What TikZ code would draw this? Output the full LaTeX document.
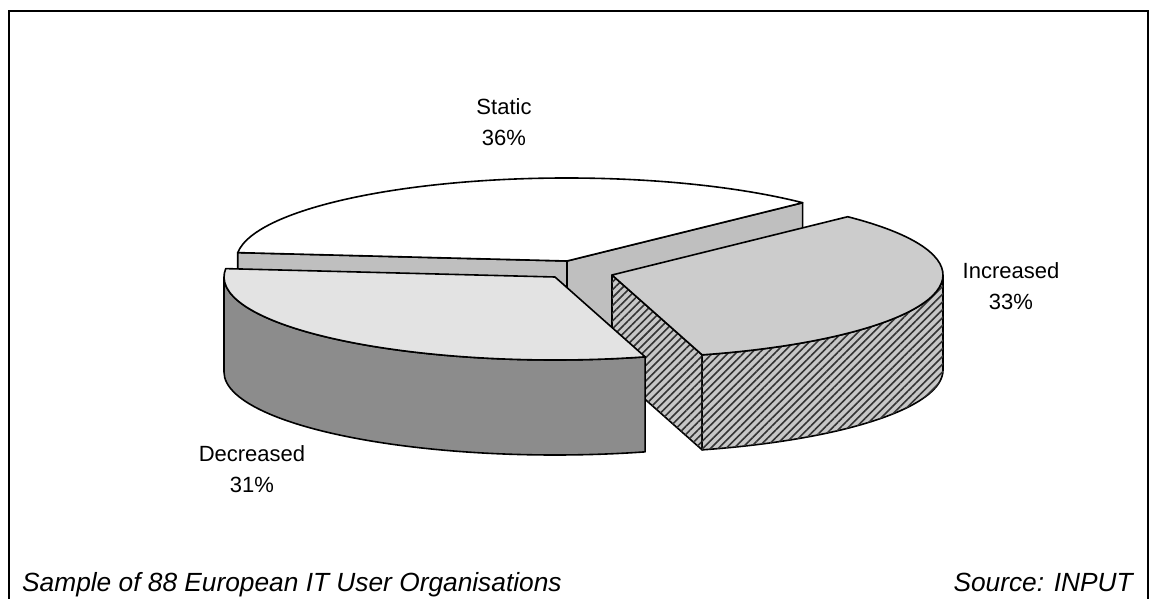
\documentclass[tikz,border=0pt]{standalone}
\usepackage{fontspec}
\setmainfont{Liberation Sans}
\usetikzlibrary{calc,patterns.meta}

\tikzset{
  edge/.style={draw=black, line width=1.6pt, line join=round},
  statictop/.style={edge, fill=white},
  staticside/.style={edge, fill=black!25},
  incrtop/.style={edge, fill=black!20},
  incrside/.style={edge, fill=black!22,
    postaction={pattern={Lines[angle=45,distance=5.5pt,line width=1.6pt]}, pattern color=black!80}},
  decrtop/.style={edge, fill=black!11},
  decrside/.style={edge, fill=black!45},
  lbl/.style={align=center, font=\fontsize{22}{31}\selectfont},
  foot/.style={font=\fontsize{26.3}{30}\selectfont\itshape},
  rim/.style={x radius=331, y radius=83},
}

\begin{document}
\begin{tikzpicture}[x=1pt, y=-1pt]
\useasboundingbox (0,0) rectangle (1154,599);

% open frame round the chart
\draw[line width=1.8pt] (9,599) -- (9,11) -- (1148,11) -- (1148,599);

% apexes of the three slices (top faces)
\coordinate (S) at (567,261);
\coordinate (I) at (612,275);
\coordinate (D) at (555,277);

% --- Static slice (back) ---
\filldraw[staticside] (S) -- ($(S)+(315.4:331 and 83)$) -- ++(0,95) -- ($(S)+(0,95)$) -- cycle;
\filldraw[staticside] (S) -- ($(S)+(185.8:331 and 83)$) -- ++(0,95) -- ($(S)+(0,95)$) -- cycle;
\filldraw[statictop] (S) -- ($(S)+(185.8:331 and 83)$)
  arc[rim, start angle=185.8, end angle=315.4] -- cycle;

% --- Increased slice (right) ---
\filldraw[incrside] (I) -- ($(I)+(74.2:331 and 83)$) -- ++(0,95) -- ($(I)+(0,95)$) -- cycle;
\filldraw[incrside] ($(I)+(0:331 and 83)$)
  arc[rim, start angle=0, end angle=74.2] -- ++(0,95)
  arc[rim, start angle=74.2, end angle=0] -- cycle;
\filldraw[incrtop] (I) -- ($(I)+(-44.6:331 and 83)$)
  arc[rim, start angle=-44.6, end angle=74.2] -- cycle;

% --- Decreased slice (front left) ---
\filldraw[decrside] ($(D)+(74.2:331 and 83)$)
  arc[rim, start angle=74.2, end angle=180] -- ++(0,95)
  arc[rim, start angle=180, end angle=74.2] -- cycle;
\filldraw[decrtop] (D) -- ($(D)+(74.2:331 and 83)$)
  arc[rim, start angle=74.2, end angle=185.8] -- cycle;

% slice labels
\node[lbl] (lstatic) at (504,122) {Static\\36\%};
\node[lbl] (lincr) at (1011,286) {Increased\\33\%};
\node[lbl] (ldecr) at (252,469) {Decreased\\31\%};

% footer
\node[foot, anchor=base west, inner sep=0pt] (sample) at (22,591) {Sample of 88 European IT User Organisations};
\node[foot, anchor=base east, inner sep=0pt] (source) at (1133,591) {Source: INPUT};
\end{tikzpicture}
\end{document}
